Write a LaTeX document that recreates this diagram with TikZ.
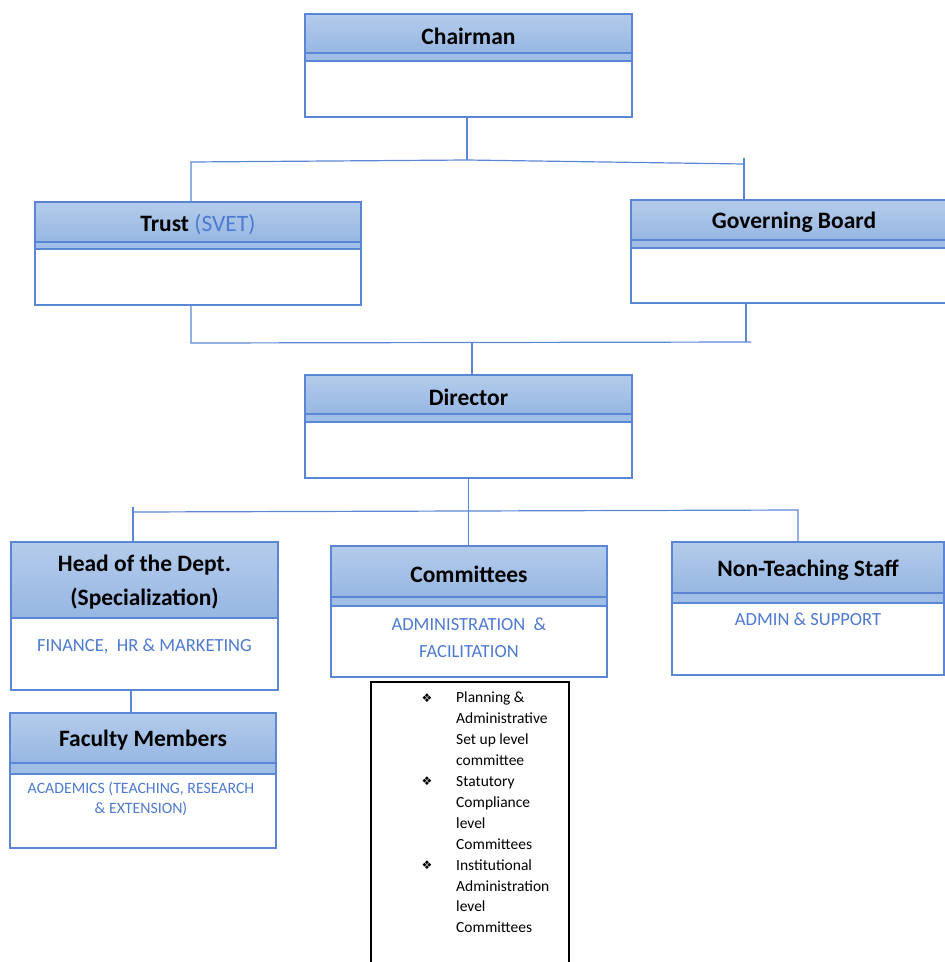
\documentclass[tikz,border=0pt]{standalone}
\usepackage{fontspec}
\setmainfont{Carlito}
\newfontfamily\dingfont{DejaVu Sans}
\usetikzlibrary{calc}
\definecolor{boxblue}{RGB}{91,134,214}
\definecolor{headtop}{RGB}{180,204,235}
\definecolor{headbot}{RGB}{150,182,226}
\definecolor{bandblue}{RGB}{160,190,230}
\definecolor{txtblue}{RGB}{78,122,208}

\begin{document}
\begin{tikzpicture}[x=1pt,y=-1pt,
  boxframe/.style={fill=white,inner sep=0pt,outer sep=0pt},
  boxline/.style={draw=boxblue,line width=1.4pt},
  link/.style={draw=boxblue,line width=1.2pt},
  headtext/.style={font=\bfseries\fontsize{23.5}{34}\selectfont,align=center,inner sep=0pt},
  bodytext/.style={text=txtblue,font=\fontsize{18.5}{27}\selectfont,align=center,inner sep=0pt},
  listtext/.style={font=\fontsize{15.5}{21}\selectfont,inner sep=0pt,anchor=base west},
  bullet/.style={font=\dingfont\fontsize{12}{14}\selectfont,inner sep=0pt}]
\clip (0,0) rectangle (945,962);
\newcommand{\orgbox}[7]{
  \node[boxframe,minimum width=#3,minimum height=#4] (#1) at (#2) {};
  \shade[top color=headtop,bottom color=headbot] (#1.north west) rectangle ([yshift=-#5]#1.north east);
  \fill[bandblue] ([yshift=-#5]#1.north west) rectangle ([yshift=-#5-#6]#1.north east);
  \draw[boxline] (#1.north west) rectangle (#1.south east)
    ([yshift=-#5]#1.north west) -- ([yshift=-#5]#1.north east)
    ([yshift=-#5-#6]#1.north west) -- ([yshift=-#5-#6]#1.north east);
  \node[headtext] (#1-t) at ([yshift=-#5/2-2.5pt]#1.north) {#7};
}
\orgbox{chair}{468.5,65.5}{327pt}{103pt}{39pt}{8pt}{Chairman}
\orgbox{trust}{198,253.5}{326pt}{103pt}{40pt}{7pt}{Trust \textcolor{txtblue}{\mdseries(SVET)}}
\orgbox{board}{794,251.5}{326pt}{103pt}{40pt}{8pt}{Governing Board}
\orgbox{dir}{468.5,426.5}{327pt}{103pt}{39pt}{8pt}{Director}
\orgbox{hod}{144.5,616}{267pt}{148pt}{76pt}{0pt}{Head of the Dept.\\(Specialization)}
\orgbox{comm}{469,611.5}{276pt}{131pt}{51pt}{9pt}{Committees}
\orgbox{staff}{808,608.5}{272pt}{133pt}{51pt}{10pt}{Non-Teaching Staff}
\orgbox{fac}{143,780.5}{266pt}{135pt}{50pt}{11pt}{Faculty Members}

\node[bodytext] (hod-b) at (144.5,646) {FINANCE,\ \ HR \& MARKETING};
\node[bodytext] (comm-b) at (469,637.5) {ADMINISTRATION\ \ \&\\FACILITATION};
\node[bodytext] (staff-b) at (808,619) {ADMIN \& SUPPORT};
\node[bodytext,font=\fontsize{15.8}{20}\selectfont] (fac-b) at (141,799) {ACADEMICS (TEACHING, RESEARCH\\\& EXTENSION)};

\node[draw=black,line width=1.1pt,inner sep=0pt,minimum width=198pt,minimum height=300pt] (list) at (470,832) {};
\foreach \txt [count=\i] in {Planning \&,Administrative,Set up level,committee,Statutory,Compliance,level,Committees,Institutional,Administration,level,Committees}
  \node[listtext] (line\i) at (456,682+20.9*\i) {\txt};
\foreach \i in {1,5,9}
  \node[bullet] (bul\i) at (427,677+20.9*\i) {❖};

\coordinate (chairj) at (467,160);
\coordinate (trustj) at (191,162);
\coordinate (boardj) at (744,164);
\draw[link] (chair.south -| chairj) -- (chairj);
\draw[link] (trust.north -| trustj) -- (trustj) -- (chairj) -- (boardj);
\draw[link] ([yshift=6pt]boardj) -- (boardj |- board.north);

\coordinate (dirj) at (472,342);
\coordinate (trustk) at (191,343);
\coordinate (boardk) at (746,342);
\coordinate (busend) at (751,342);
\draw[link] (trust.south -| trustk) -- (trustk) -- (busend);
\draw[link] (board.south -| boardk) -- (boardk);
\draw[link] (dirj) -- (dir.north -| dirj);

\coordinate (hodj) at (133,512);
\coordinate (staffj) at (798,510);
\coordinate (hodk) at (131,700);
\draw[link] (dir.south) -- (dir.south |- comm.north);
\draw[link] ([yshift=5pt]hodj) -- (hodj |- hod.north);
\draw[link] (hodj) -- (staffj) -- (staffj |- staff.north);
\draw[link] (hodk |- hod.south) -- (hodk |- fac.north);
\end{tikzpicture}
\end{document}
